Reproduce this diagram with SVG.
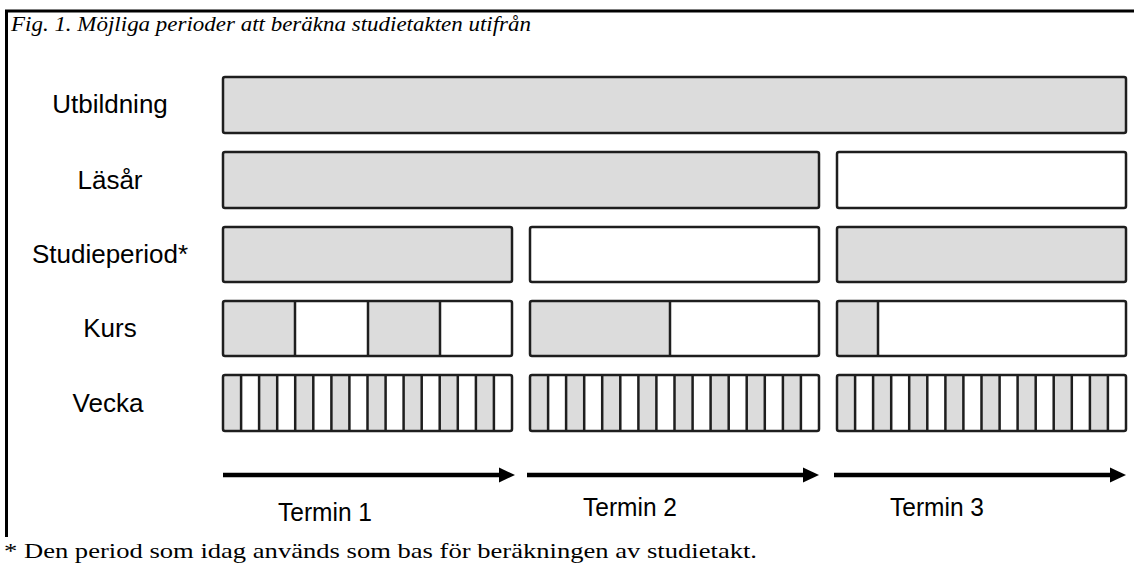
<svg xmlns="http://www.w3.org/2000/svg" width="1134" height="564" viewBox="0 0 1134 564">
<style>
.bg{fill:#ffffff}
.frame{stroke:#000;stroke-width:3;fill:none}
.g{fill:#dcdcdc;stroke:#1e1e1e;stroke-width:2.5}
.w{fill:#ffffff;stroke:#1e1e1e;stroke-width:2.5}
.cell-g{fill:#dcdcdc;stroke:none}
.div{stroke:#1e1e1e;stroke-width:2.5}
.lbl{font-family:"Liberation Sans",Arial,sans-serif;font-size:26px;fill:#000;text-anchor:middle}
.term{font-family:"Liberation Sans",Arial,sans-serif;font-size:25px;fill:#000;text-anchor:middle}
.cap{font-family:"Liberation Serif","Times New Roman",serif;font-style:italic;font-size:22px;fill:#000}
.foot{font-family:"Liberation Serif","Times New Roman",serif;font-size:22px;fill:#000}
.arr{stroke:#000;stroke-width:4.5;fill:none}
</style>
<defs>
<marker id="ah" markerUnits="userSpaceOnUse" markerWidth="18" markerHeight="18" refX="8" refY="9" orient="auto">
<path d="M0,1.5 L16,9 L0,16.5 z" fill="#000"/>
</marker>
</defs>
<rect class="bg" x="0" y="0" width="1134" height="564"/>
<g id="frame">
<line class="frame" x1="5" y1="11" x2="1134" y2="11"/>
<line class="frame" x1="6.5" y1="11" x2="6.5" y2="537"/>
</g>
<text class="cap" x="11" y="31" textLength="520" lengthAdjust="spacingAndGlyphs">Fig. 1. Möjliga perioder att beräkna studietakten utifrån</text>

<g id="utbildning">
<text class="lbl" x="110" y="113">Utbildning</text>
<rect class="g" x="223" y="77" width="903" height="56" rx="2"/>
</g>

<g id="lasar">
<text class="lbl" x="110" y="189">Läsår</text>
<rect class="g" x="223" y="152" width="596" height="56" rx="2"/>
<rect class="w" x="837" y="152" width="289" height="56" rx="2"/>
</g>

<g id="studieperiod">
<text class="lbl" x="110" y="263">Studieperiod*</text>
<rect class="g" x="223" y="227" width="289" height="55" rx="2"/>
<rect class="w" x="530" y="227" width="289" height="55" rx="2"/>
<rect class="g" x="837" y="227" width="289" height="55" rx="2"/>
</g>

<g id="kurs">
<text class="lbl" x="110" y="337">Kurs</text>
<rect class="cell-g" x="223" y="301" width="72" height="55"/>
<rect class="cell-g" x="368" y="301" width="72" height="55"/>
<rect class="w" x="223" y="301" width="289" height="55" rx="2" style="fill:none"/>
<line class="div" x1="295" y1="301" x2="295" y2="356"/>
<line class="div" x1="368" y1="301" x2="368" y2="356"/>
<line class="div" x1="440" y1="301" x2="440" y2="356"/>
<rect class="cell-g" x="530" y="301" width="140" height="55"/>
<rect class="w" x="530" y="301" width="289" height="55" rx="2" style="fill:none"/>
<line class="div" x1="670" y1="301" x2="670" y2="356"/>
<rect class="cell-g" x="837" y="301" width="41" height="55"/>
<rect class="w" x="837" y="301" width="289" height="55" rx="2" style="fill:none"/>
<line class="div" x1="878" y1="301" x2="878" y2="356"/>
</g>

<g id="vecka">
<text class="lbl" x="108" y="412">Vecka</text>
<g id="vecka-t1">
<rect class="cell-g" x="223" y="375" width="18.06" height="56"/>
<rect class="cell-g" x="259.1" y="375" width="18.06" height="56"/>
<rect class="cell-g" x="295.2" y="375" width="18.06" height="56"/>
<rect class="cell-g" x="331.4" y="375" width="18.06" height="56"/>
<rect class="cell-g" x="367.5" y="375" width="18.06" height="56"/>
<rect class="cell-g" x="403.6" y="375" width="18.06" height="56"/>
<rect class="cell-g" x="439.7" y="375" width="18.06" height="56"/>
<rect class="cell-g" x="475.9" y="375" width="18.06" height="56"/>
<path class="div" fill="none" d="M241.1,375V431M259.1,375V431M277.2,375V431M295.2,375V431M313.3,375V431M331.4,375V431M349.4,375V431M367.5,375V431M385.6,375V431M403.6,375V431M421.7,375V431M439.7,375V431M457.8,375V431M475.9,375V431M493.9,375V431"/>
<rect class="w" x="223" y="375" width="289" height="56" rx="2" style="fill:none"/>
</g>
<g id="vecka-t2">
<rect class="cell-g" x="530" y="375" width="18.06" height="56"/>
<rect class="cell-g" x="566.1" y="375" width="18.06" height="56"/>
<rect class="cell-g" x="602.2" y="375" width="18.06" height="56"/>
<rect class="cell-g" x="638.4" y="375" width="18.06" height="56"/>
<rect class="cell-g" x="674.5" y="375" width="18.06" height="56"/>
<rect class="cell-g" x="710.6" y="375" width="18.06" height="56"/>
<rect class="cell-g" x="746.7" y="375" width="18.06" height="56"/>
<rect class="cell-g" x="782.9" y="375" width="18.06" height="56"/>
<path class="div" fill="none" d="M548.1,375V431M566.1,375V431M584.2,375V431M602.2,375V431M620.3,375V431M638.4,375V431M656.4,375V431M674.5,375V431M692.6,375V431M710.6,375V431M728.7,375V431M746.7,375V431M764.8,375V431M782.9,375V431M800.9,375V431"/>
<rect class="w" x="530" y="375" width="289" height="56" rx="2" style="fill:none"/>
</g>
<g id="vecka-t3">
<rect class="cell-g" x="837" y="375" width="18.06" height="56"/>
<rect class="cell-g" x="873.1" y="375" width="18.06" height="56"/>
<rect class="cell-g" x="909.2" y="375" width="18.06" height="56"/>
<rect class="cell-g" x="945.4" y="375" width="18.06" height="56"/>
<rect class="cell-g" x="981.5" y="375" width="18.06" height="56"/>
<rect class="cell-g" x="1017.6" y="375" width="18.06" height="56"/>
<rect class="cell-g" x="1053.7" y="375" width="18.06" height="56"/>
<rect class="cell-g" x="1089.9" y="375" width="18.06" height="56"/>
<path class="div" fill="none" d="M855.1,375V431M873.1,375V431M891.2,375V431M909.2,375V431M927.3,375V431M945.4,375V431M963.4,375V431M981.5,375V431M999.6,375V431M1017.6,375V431M1035.7,375V431M1053.7,375V431M1071.8,375V431M1089.9,375V431M1107.9,375V431"/>
<rect class="w" x="837" y="375" width="289" height="56" rx="2" style="fill:none"/>
</g>
</g>

<g id="connectors">
<line class="arr" x1="223" y1="475" x2="507" y2="475" marker-end="url(#ah)"/>
<line class="arr" x1="527" y1="475" x2="811" y2="475" marker-end="url(#ah)"/>
<line class="arr" x1="834" y1="475" x2="1118" y2="475" marker-end="url(#ah)"/>
</g>

<g id="terms">
<text class="term" x="325" y="521" textLength="94" lengthAdjust="spacingAndGlyphs">Termin 1</text>
<text class="term" x="630" y="516" textLength="94" lengthAdjust="spacingAndGlyphs">Termin 2</text>
<text class="term" x="937" y="516" textLength="94" lengthAdjust="spacingAndGlyphs">Termin 3</text>
</g>

<text class="foot" x="4" y="558" textLength="753" lengthAdjust="spacingAndGlyphs">* Den period som idag används som bas för beräkningen av studietakt.</text>
</svg>
